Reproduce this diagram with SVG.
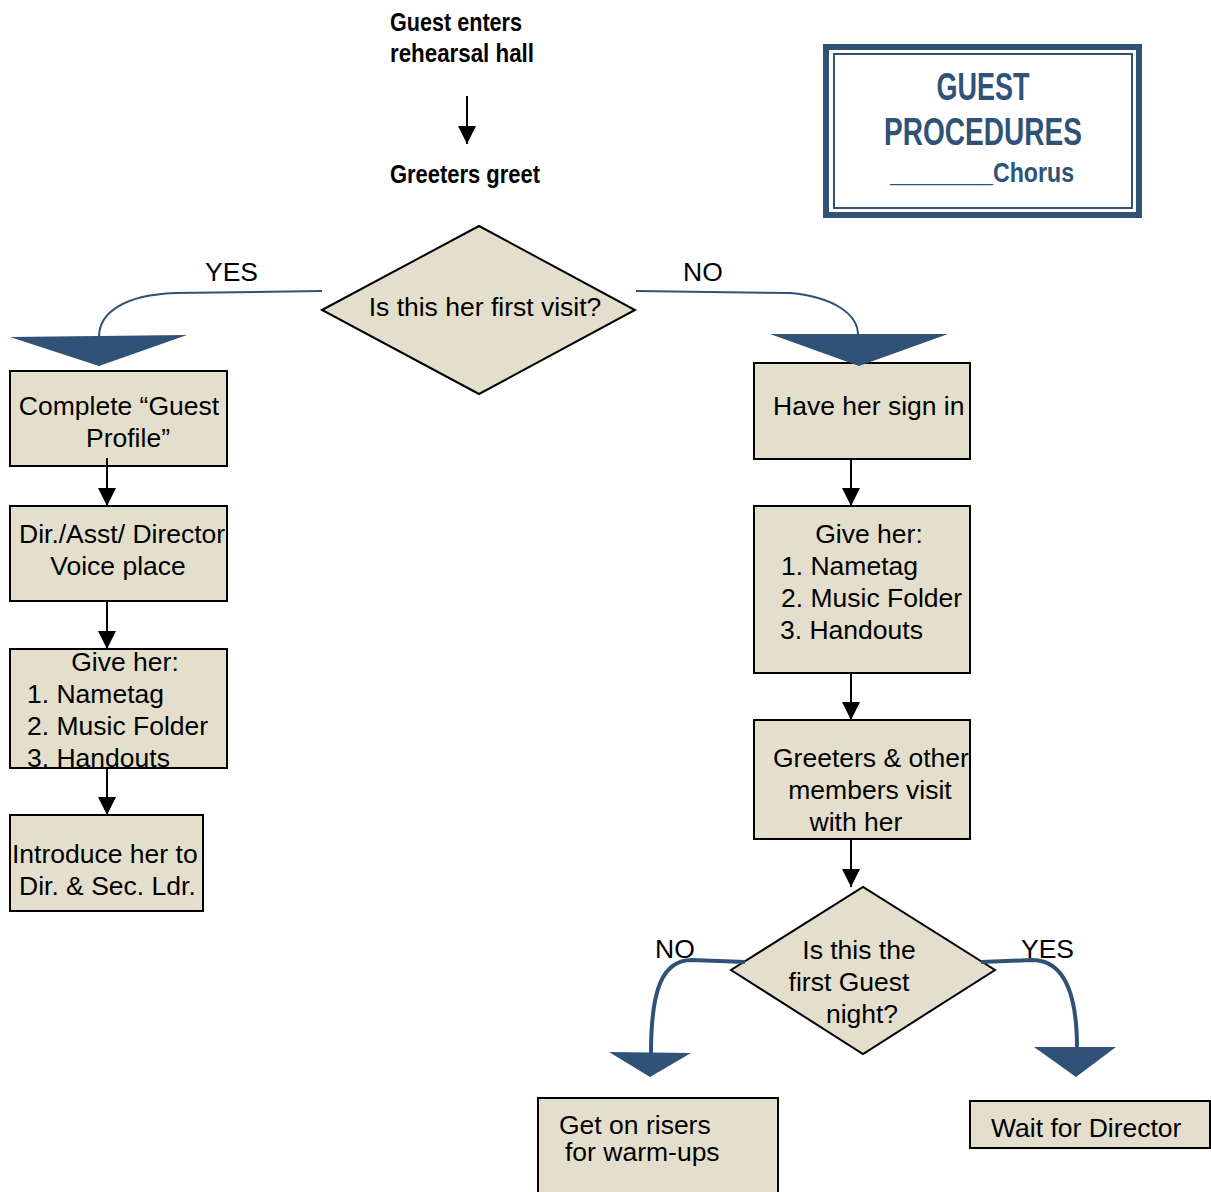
<svg xmlns="http://www.w3.org/2000/svg" width="1211" height="1192" viewBox="0 0 1211 1192">
<defs>
<style>
.box{fill:#e4dfcc;stroke:#000;stroke-width:2}
.t{font-family:"Liberation Sans",Arial,sans-serif;font-size:26.5px;fill:#000}
.b{font-family:"Liberation Sans",Arial,sans-serif;font-weight:bold;font-size:25px;fill:#000}
.h{font-family:"Liberation Sans",Arial,sans-serif;font-weight:bold;fill:#2f5276}
.ln{stroke:#000;stroke-width:2;fill:none}
.cv{stroke:#2f5276;fill:none}
.ah{fill:#2f5276}
</style>
<marker id="arr" markerUnits="userSpaceOnUse" markerWidth="20" markerHeight="20" refX="18" refY="9" orient="auto">
<path d="M0,0 L18,9 L0,18 Z" fill="#000"/>
</marker>
</defs>
<rect width="1211" height="1192" fill="#fff"/>

<g id="start">
<text class="b" x="390" y="31" textLength="132" lengthAdjust="spacingAndGlyphs">Guest enters</text>
<text class="b" x="390" y="62" textLength="144" lengthAdjust="spacingAndGlyphs">rehearsal hall</text>
</g>
<g id="greet">
<text class="b" x="390" y="183" textLength="150" lengthAdjust="spacingAndGlyphs">Greeters greet</text>
</g>

<g id="title">
<rect x="826" y="47" width="313" height="168" fill="#fff" stroke="#2f5276" stroke-width="6"/>
<rect x="834" y="54" width="298" height="154" fill="none" stroke="#2f5276" stroke-width="2"/>
<text class="h" x="983" y="100" font-size="38" text-anchor="middle" textLength="93" lengthAdjust="spacingAndGlyphs">GUEST</text>
<text class="h" x="983" y="145" font-size="38" text-anchor="middle" textLength="198" lengthAdjust="spacingAndGlyphs">PROCEDURES</text>
<text class="h" x="890" y="182" font-size="28" textLength="184" lengthAdjust="spacingAndGlyphs">________Chorus</text>
</g>

<g id="d1">
<polygon class="box" points="322,310 479,226 635,310 479,394"/>
<text class="t" x="485" y="316" text-anchor="middle">Is this her first visit?</text>
</g>

<g id="l1">
<rect class="box" x="10" y="371" width="217" height="95"/>
<text class="t" x="119" y="415" text-anchor="middle">Complete “Guest</text>
<text class="t" x="128" y="447" text-anchor="middle">Profile”</text>
</g>
<g id="l2">
<rect class="box" x="10" y="506" width="217" height="95"/>
<text class="t" x="19" y="543">Dir./Asst/ Director</text>
<text class="t" x="118" y="575" text-anchor="middle">Voice place</text>
</g>
<g id="l3">
<rect class="box" x="10" y="649" width="217" height="119"/>
<text class="t" x="125" y="671" text-anchor="middle">Give her:</text>
<text class="t" x="27" y="703">1. Nametag</text>
<text class="t" x="27" y="735">2. Music Folder</text>
<text class="t" x="27" y="767">3. Handouts</text>
</g>
<g id="l4">
<rect class="box" x="10" y="815" width="193" height="96"/>
<text class="t" x="12" y="863">Introduce her to</text>
<text class="t" x="19" y="895">Dir. &amp; Sec. Ldr.</text>
</g>

<g id="r1">
<rect class="box" x="754" y="363" width="216" height="96"/>
<text class="t" x="773" y="415">Have her sign in</text>
</g>
<g id="r2">
<rect class="box" x="754" y="506" width="216" height="167"/>
<text class="t" x="869" y="543" text-anchor="middle">Give her:</text>
<text class="t" x="781" y="575">1. Nametag</text>
<text class="t" x="781" y="607">2. Music Folder</text>
<text class="t" x="780" y="639">3. Handouts</text>
</g>
<g id="r3">
<rect class="box" x="754" y="720" width="216" height="119"/>
<text class="t" x="773" y="767">Greeters &amp; other</text>
<text class="t" x="870" y="799" text-anchor="middle">members visit</text>
<text class="t" x="856" y="831" text-anchor="middle">with her</text>
</g>

<g id="d2">
<polygon class="box" points="731,970 863,887 995,970 863,1054"/>
<text class="t" x="859" y="959" text-anchor="middle">Is this the</text>
<text class="t" x="849" y="991" text-anchor="middle">first Guest</text>
<text class="t" x="862" y="1023" text-anchor="middle">night?</text>
</g>

<g id="b1">
<rect class="box" x="538" y="1098" width="240" height="100"/>
<text class="t" x="559" y="1134">Get on risers</text>
<text class="t" x="565" y="1161">for warm-ups</text>
</g>
<g id="b2">
<rect class="box" x="970" y="1101" width="240" height="47"/>
<text class="t" x="991" y="1137">Wait for Director</text>
</g>

<g id="connectors">
<line class="ln" x1="467" y1="96" x2="467" y2="144" marker-end="url(#arr)"/>
<line class="ln" x1="107" y1="458" x2="107" y2="506" marker-end="url(#arr)"/>
<line class="ln" x1="107" y1="601" x2="107" y2="649" marker-end="url(#arr)"/>
<line class="ln" x1="107" y1="768" x2="107" y2="815" marker-end="url(#arr)"/>
<line class="ln" x1="851" y1="459" x2="851" y2="506" marker-end="url(#arr)"/>
<line class="ln" x1="851" y1="673" x2="851" y2="720" marker-end="url(#arr)"/>
<line class="ln" x1="851" y1="839" x2="851" y2="887" marker-end="url(#arr)"/>

<path class="cv" stroke-width="2" d="M322,291 L175,293 C125,295 99,312 99,337"/>
<polygon class="ah" points="10,337 187,335 99,366"/>
<path class="cv" stroke-width="2" d="M636,291 L790,293 C835,297 858,315 858,335"/>
<polygon class="ah" points="770,334 948,334 859,366"/>

<path class="cv" stroke-width="4" d="M745,962 L692,960 C662,960 651,990 651,1053"/>
<polygon class="ah" points="609,1052 691,1053 650,1077"/>
<path class="cv" stroke-width="4" d="M981,962 L1032,960 C1062,960 1077,990 1077,1048"/>
<polygon class="ah" points="1034,1047 1116,1047 1076,1077"/>
</g>

<g id="labels">
<text class="t" x="205" y="281">YES</text>
<text class="t" x="683" y="281">NO</text>
<text class="t" x="655" y="958">NO</text>
<text class="t" x="1021" y="958">YES</text>
</g>
</svg>
